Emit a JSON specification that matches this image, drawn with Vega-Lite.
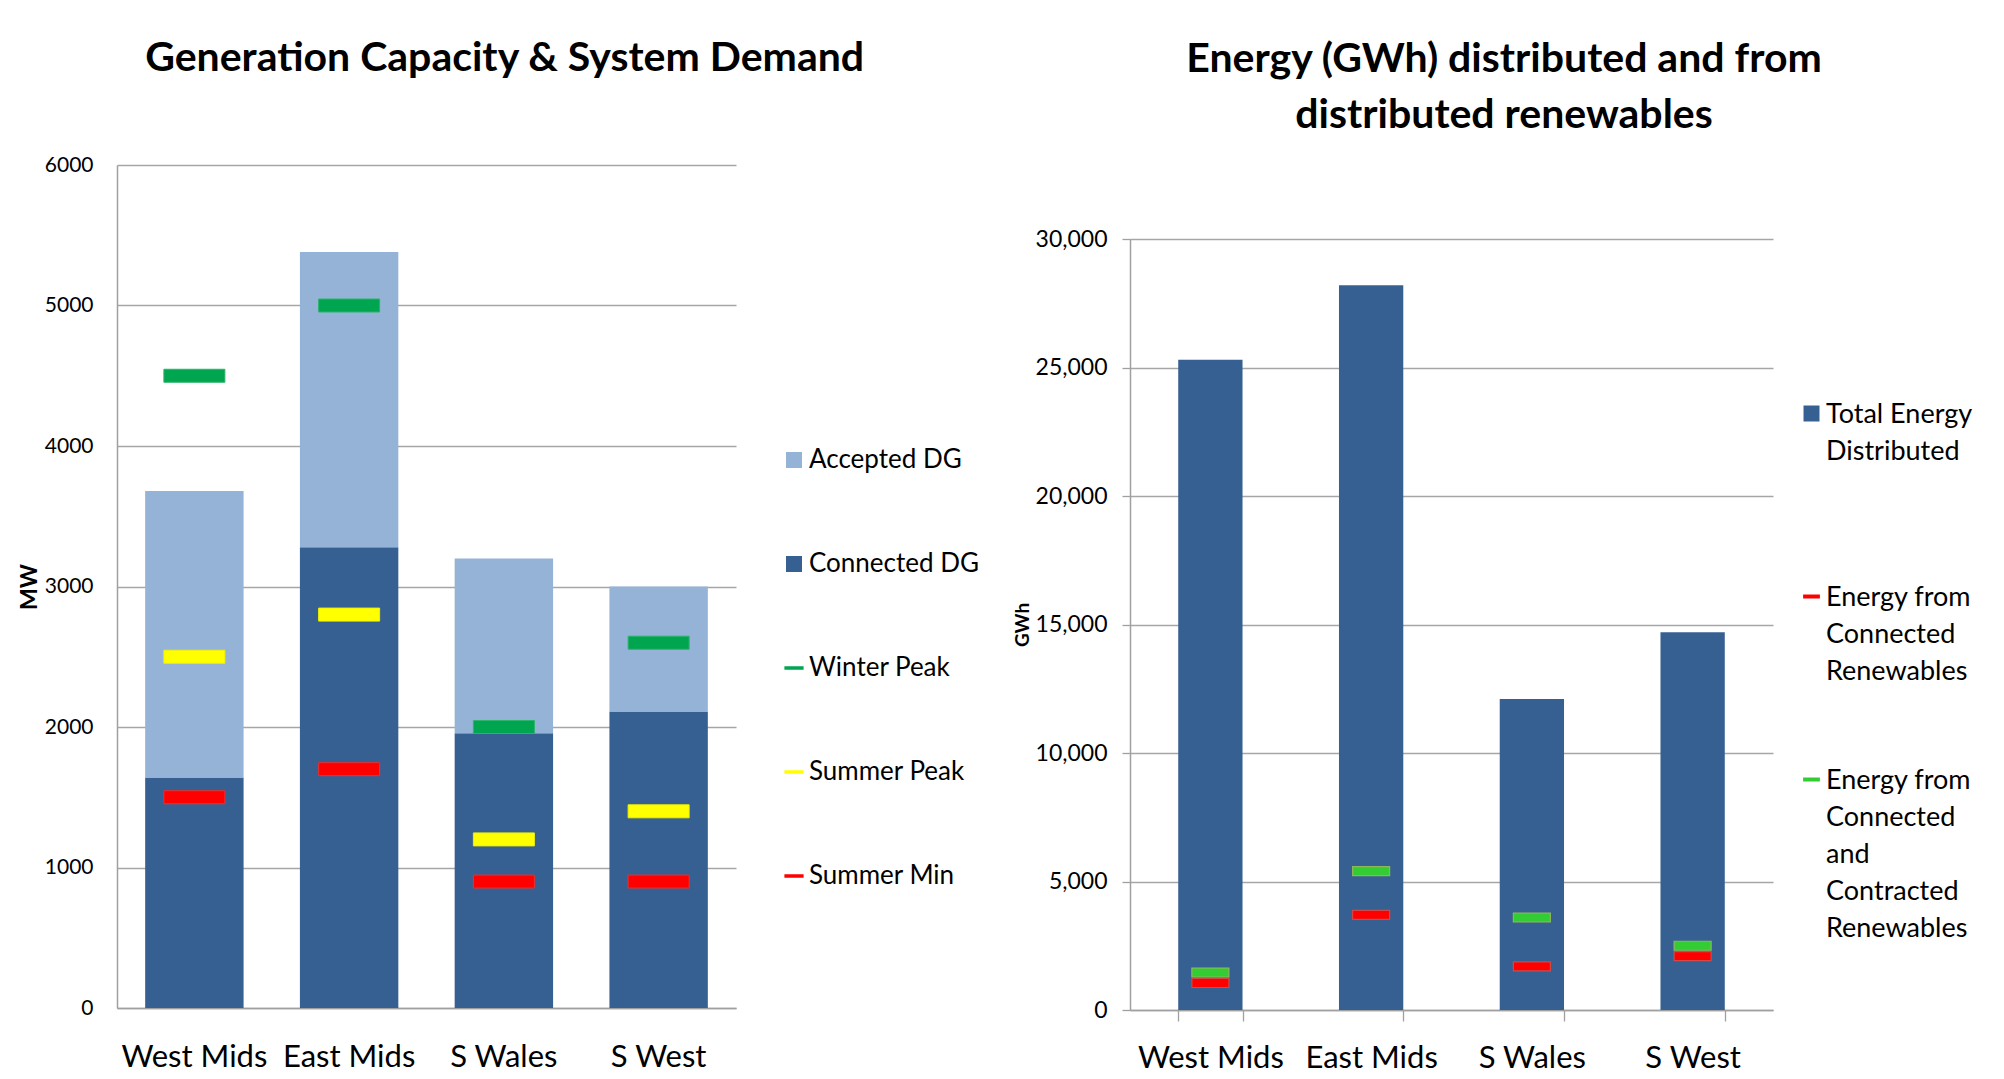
{
  "$schema": "https://vega.github.io/schema/vega-lite/v6.json",
  "background": "white",
  "padding": {"left": 18, "top": 38, "right": 0, "bottom": 0},
  "spacing": 34,
  "align": "none",
  "resolve": {"scale": {"color": "independent", "stroke": "independent", "x": "independent", "y": "independent"}, "legend": {"color": "independent"}},
  "config": {
    "font": "Lato",
    "view": {"stroke": null},
    "tick": {"opacity": 1},
    "axis": {
      "labelFont": "Lato",
      "titleFont": "Lato",
      "labelColor": "#000000",
      "titleColor": "#000000",
      "domainColor": "#A0A0A0",
      "gridColor": "#A6A6A6",
      "tickColor": "#A0A0A0",
      "domainWidth": 1.5,
      "gridWidth": 1.3,
      "tickWidth": 1.3
    },
    "title": {"font": "Lato", "color": "#000000", "fontWeight": "bold", "fontSize": 41, "anchor": "middle", "frame": "bounds"}
  },
  "datasets": {
    "capacity": [
      {"region": "West Mids", "series": "Connected DG", "value": 1640},
      {"region": "West Mids", "series": "Accepted DG", "value": 2040},
      {"region": "East Mids", "series": "Connected DG", "value": 3280},
      {"region": "East Mids", "series": "Accepted DG", "value": 2100},
      {"region": "S Wales", "series": "Connected DG", "value": 1955},
      {"region": "S Wales", "series": "Accepted DG", "value": 1245},
      {"region": "S West", "series": "Connected DG", "value": 2110},
      {"region": "S West", "series": "Accepted DG", "value": 890}
    ],
    "demand": [
      {"region": "West Mids", "series": "Winter Peak", "value": 4500},
      {"region": "West Mids", "series": "Summer Peak", "value": 2500},
      {"region": "West Mids", "series": "Summer Min", "value": 1500},
      {"region": "East Mids", "series": "Winter Peak", "value": 5000},
      {"region": "East Mids", "series": "Summer Peak", "value": 2800},
      {"region": "East Mids", "series": "Summer Min", "value": 1700},
      {"region": "S Wales", "series": "Winter Peak", "value": 2000},
      {"region": "S Wales", "series": "Summer Peak", "value": 1200},
      {"region": "S Wales", "series": "Summer Min", "value": 900},
      {"region": "S West", "series": "Winter Peak", "value": 2600},
      {"region": "S West", "series": "Summer Peak", "value": 1400},
      {"region": "S West", "series": "Summer Min", "value": 900}
    ],
    "energy": [
      {"region": "West Mids", "total": 25300},
      {"region": "East Mids", "total": 28200},
      {"region": "S Wales", "total": 12100},
      {"region": "S West", "total": 14700}
    ],
    "renew": [
      {"region": "West Mids", "series": "Energy from Connected Renewables", "value": 1050},
      {"region": "West Mids", "series": "Energy from Connected and Contracted Renewables", "value": 1460},
      {"region": "East Mids", "series": "Energy from Connected Renewables", "value": 3700},
      {"region": "East Mids", "series": "Energy from Connected and Contracted Renewables", "value": 5400},
      {"region": "S Wales", "series": "Energy from Connected Renewables", "value": 1700},
      {"region": "S Wales", "series": "Energy from Connected and Contracted Renewables", "value": 3600},
      {"region": "S West", "series": "Energy from Connected Renewables", "value": 2100},
      {"region": "S West", "series": "Energy from Connected and Contracted Renewables", "value": 2500}
    ]
  },
  "hconcat": [
    {
      "width": 619,
      "height": 843,
      "title": {"text": "Generation Capacity & System Demand", "offset": 74, "dx": 6},
      "layer": [
        {
          "data": {"name": "capacity"},
          "mark": {"type": "bar"},
          "encoding": {
            "x": {
              "field": "region", "type": "nominal",
              "sort": ["West Mids", "East Mids", "S Wales", "S West"],
              "scale": {"paddingInner": 0.364, "paddingOuter": 0.182},
              "axis": {"title": null, "labelAngle": 0, "labelFontSize": 31, "ticks": false, "labelPadding": 34}
            },
            "y": {
              "field": "value", "type": "quantitative", "stack": "zero",
              "scale": {"domain": [0, 6000], "nice": false},
              "axis": {"title": "MW", "values": [0, 1000, 2000, 3000, 4000, 5000, 6000], "format": "d", "ticks": false, "labelPadding": 24, "labelFontSize": 21, "titleFontSize": 23, "titleFontWeight": "bold", "titlePadding": 3, "grid": true}
            },
            "color": {
              "field": "series", "type": "nominal",
              "scale": {"domain": ["Accepted DG", "Connected DG", "Winter Peak", "Summer Peak", "Summer Min"], "range": ["#95B3D7", "#376092", "#00A550", "#FFFF00", "#FF0000"]},
              "legend": {
                "title": null, "orient": "none", "legendX": 664, "legendY": 282,
                "labelFontSize": 26, "labelFont": "Lato", "labelColor": "#000000", "labelLimit": 400,
                "rowPadding": 78, "symbolSize": 256, "gridAlign": "all", "labelOffset": 2,
                "encode": {"symbols": {"update": {
                  "shape": {"signal": "indexof(['Accepted DG','Connected DG'], datum.value) >= 0 ? 'square' : 'M-1.2,-0.22H1.2V0.22H-1.2Z'"},
                  "strokeWidth": {"value": 0}
                }}}
              }
            },
            "order": {"field": "series", "sort": "descending"}
          }
        },
        {
          "data": {"name": "demand"},
          "mark": {"type": "tick", "thickness": 13, "size": 61, "strokeWidth": 1, "opacity": 1},
          "encoding": {
            "x": {"field": "region", "type": "nominal", "sort": ["West Mids", "East Mids", "S Wales", "S West"]},
            "y": {"field": "value", "type": "quantitative"},
            "color": {"field": "series", "type": "nominal", "legend": null},
            "stroke": {"field": "series", "type": "nominal", "scale": {"domain": ["Winter Peak", "Summer Peak", "Summer Min"], "range": ["#2DB36B", "#F0F000", "#E83030"]}, "legend": null}
          }
        }
      ]
    },
    {
      "width": 643,
      "height": 845,
      "title": {"text": ["Energy (GWh) distributed and from", "distributed renewables"], "lineHeight": 56, "offset": 28, "dx": 11},
      "layer": [
        {
          "data": {"name": "energy"},
          "mark": {"type": "bar"},
          "encoding": {
            "x": {
              "field": "region", "type": "nominal",
              "sort": ["West Mids", "East Mids", "S Wales", "S West"],
              "scale": {"paddingInner": 0.6, "paddingOuter": 0.3},
              "axis": {"title": null, "labelAngle": 0, "labelFontSize": 31, "tickBand": "extent", "tickSize": 11, "labelPadding": 22}
            },
            "y": {
              "field": "total", "type": "quantitative",
              "scale": {"domain": [0, 30000], "nice": false, "range": [845, 74]},
              "axis": {"title": "GWh", "values": [0, 5000, 10000, 15000, 20000, 25000, 30000], "format": ",d", "tickSize": 8, "labelPadding": 15, "labelFontSize": 23, "titleFontSize": 19, "titleFontWeight": "bold", "titlePadding": 3, "grid": true}
            },
            "color": {
              "datum": "Total Energy Distributed", "type": "nominal",
              "scale": {"domain": ["Total Energy Distributed", "Energy from Connected Renewables", "Energy from Connected and Contracted Renewables"], "range": ["#376092", "#FF0000", "#33CC33"]},
              "legend": {
                "title": null, "orient": "none", "legendX": 668, "legendY": 235,
                "labelFontSize": 27, "labelFont": "Lato", "labelColor": "#000000", "labelLimit": 400,
                "rowPadding": 7, "symbolSize": 256, "gridAlign": "all", "labelOffset": 1,
                "labelBaseline": "alphabetic",
                "labelExpr": "datum.label == 'Total Energy Distributed' ? ['Total Energy','Distributed'] : datum.label == 'Energy from Connected Renewables' ? ['Energy from','Connected','Renewables'] : ['Energy from','Connected','and','Contracted','Renewables']",
                "encode": {
                  "symbols": {"update": {
                    "shape": {"signal": "datum.value == 'Total Energy Distributed' ? 'square' : 'M-1.05,-0.25H1.05V0.25H-1.05Z'"},
                    "strokeWidth": {"value": 0}
                  }},
                  "labels": {"update": {"lineHeight": {"value": 37}, "dy": {"value": 9}}}
                }
              }
            }
          }
        },
        {
          "data": {"name": "renew"},
          "mark": {"type": "tick", "thickness": 9, "size": 37, "strokeWidth": 1.2, "opacity": 1},
          "encoding": {
            "x": {"field": "region", "type": "nominal", "sort": ["West Mids", "East Mids", "S Wales", "S West"]},
            "y": {"field": "value", "type": "quantitative"},
            "color": {"field": "series", "type": "nominal", "legend": null},
            "stroke": {"field": "series", "type": "nominal", "scale": {"domain": ["Energy from Connected Renewables", "Energy from Connected and Contracted Renewables"], "range": ["#D04848", "#8DB85A"]}, "legend": null}
          }
        }
      ]
    }
  ]
}
